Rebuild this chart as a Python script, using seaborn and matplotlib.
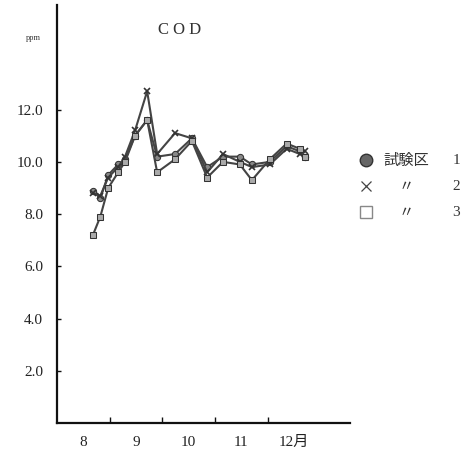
import matplotlib
matplotlib.use("Agg")
import matplotlib.pyplot as plt
from matplotlib.lines import Line2D
import seaborn as sns
import pandas as pd

# sampling positions in month units (8.0 = 1 Aug)
months = [8.68, 8.82, 8.97, 9.16, 9.29, 9.48, 9.71, 9.90, 10.24, 10.56,
          10.85, 11.15, 11.47, 11.70, 12.04, 12.36, 12.61, 12.71]
plot1 = [8.9, 8.6, 9.5, 9.9, 10.1, 11.0, 11.6, 10.2, 10.3, 10.9,
         9.8, 10.2, 10.2, 9.9, 10.0, 10.6, 10.4, 10.2]
plot2 = [8.8, 8.7, 9.4, 9.8, 10.2, 11.2, 12.7, 10.3, 11.1, 10.9,
         9.6, 10.3, 10.0, 9.8, 9.9, 10.5, 10.3, 10.4]
plot3 = [7.2, 7.9, 9.0, 9.6, 10.0, 11.0, 11.6, 9.6, 10.1, 10.8,
         9.4, 10.0, 9.9, 9.3, 10.1, 10.7, 10.5, 10.2]
series_names = ["試験区", "〃", "〃"]
series_nums = ["1", "2", "3"]
month_ticks = [9, 10, 11, 12]
month_label_pos = [8.5, 9.5, 10.5, 11.5, 12.5]
month_labels = ["8", "9", "10", "11", "12月"]
y_ticks = [2, 4, 6, 8, 10, 12]
y_labels = ["2.0", "4.0", "6.0", "8.0", "10.0", "12.0"]

sns.set_theme(style="white")
plt.rcParams['font.family'] = ['Liberation Serif', 'Noto Sans CJK JP', 'DejaVu Sans']

labels = [f"{n} {k}" for n, k in zip(series_names, series_nums)]
df = pd.concat([
    pd.DataFrame({"month": months, "COD": plot1, "plot": labels[0]}),
    pd.DataFrame({"month": months, "COD": plot2, "plot": labels[1] + " "}),
    pd.DataFrame({"month": months, "COD": plot3, "plot": labels[2] + "  "}),
])
plot_keys = [labels[0], labels[1] + " ", labels[2] + "  "]

fig = plt.figure(figsize=(4.76, 4.59), dpi=100)
ax = fig.add_axes([0.12, 0.078, 0.615, 0.911])

styles = [
    dict(marker="o", markerfacecolor="#888888", markeredgecolor="#333333", markersize=4.5),
    dict(marker="x", markeredgecolor="#333333", markersize=4.5, markeredgewidth=1.2),
    dict(marker="s", markerfacecolor="#aaaaaa", markeredgecolor="#333333", markersize=4),
]
for key, st in zip(plot_keys, styles):
    sub = df[df["plot"] == key]
    sns.lineplot(data=sub, x="month", y="COD", ax=ax, color="#444444",
                 linewidth=1.5, legend=False, **st)

ax.set_xlim(8, 13.56)
ax.set_ylim(0, 16.0)
ax.set_xlabel("")
ax.set_ylabel("")
for s in ["top", "right"]:
    ax.spines[s].set_visible(False)
for s in ["left", "bottom"]:
    ax.spines[s].set_color("#111111")
    ax.spines[s].set_linewidth(1.6)

ax.set_yticks(y_ticks)
ax.set_yticklabels(y_labels, fontsize=11, color="#222222")
ax.tick_params(axis="y", direction="in", length=3, width=1, color="#111111", pad=10, left=True)
ax.set_xticks(month_ticks)
ax.set_xticklabels([])
ax.tick_params(axis="x", which="major", direction="in", length=4, width=1, color="#111111", bottom=True)
ax.set_xticks(month_label_pos, minor=True)
ax.set_xticklabels(month_labels, minor=True, fontsize=11, color="#222222")
ax.tick_params(axis="x", which="minor", length=0, pad=9)

fig.text(0.378, 0.935, "C O D", fontsize=12, color="#333333", ha="center", va="center")
fig.text(0.070, 0.918, "ppm", fontsize=6, color="#333333", ha="center", va="center")

# legend (drawn in figure coordinates)
leg_y = [1 - 160 / 459, 1 - 186 / 459, 1 - 212 / 459]
leg_styles = [
    dict(marker="o", markerfacecolor="#666666", markeredgecolor="#333333", markersize=9),
    dict(marker="x", markeredgecolor="#444444", markersize=7, markeredgewidth=0.9),
    dict(marker="s", markerfacecolor="white", markeredgecolor="#888888", markersize=9),
]
for y, st, name, num in zip(leg_y, leg_styles, series_names, series_nums):
    fig.add_artist(Line2D([366 / 476], [y], transform=fig.transFigure,
                          linestyle="none", **st))
    fig.text(406 / 476, y, name, fontsize=11, color="#333333", ha="center", va="center",
             family=['Noto Sans CJK JP', 'DejaVu Sans'])
    fig.text(456 / 476, y, num, fontsize=11, color="#333333", ha="center", va="center")

fig.savefig("out.png", dpi=100)
